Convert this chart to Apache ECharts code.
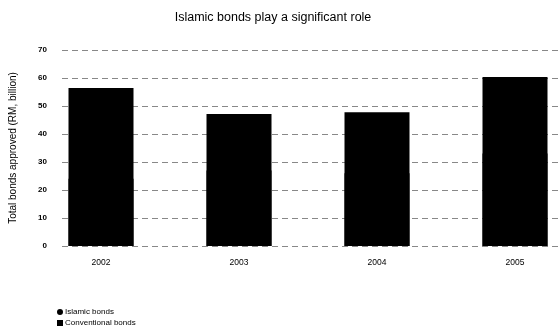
<!DOCTYPE html>
<html><head><meta charset="utf-8">
<script src="https://cdn.jsdelivr.net/npm/echarts@6/dist/echarts.min.js"></script>
<style>html,body{margin:0;padding:0;background:#fff}#c{width:560px;height:331px}</style>
</head><body><div id="c"></div>
<script>
const categories = ['2002', '2003', '2004', '2005'];
const islamicBonds = [24, 27, 26, 33];
const conventionalBonds = [32.4, 20.1, 21.8, 27.4];
const yTicks = [0, 10, 20, 30, 40, 50, 60, 70];
const seriesNames = ['Islamic bonds', 'Conventional bonds'];

const totals = islamicBonds.map((v, i) => v + conventionalBonds[i]);
const font = 'Liberation Sans, Arial, sans-serif';
const chart = echarts.init(document.getElementById('c'));
chart.setOption({
  animation: false,
  backgroundColor: '#fff',
  title: {
    text: 'Islamic bonds play a significant role',
    left: 268, top: 6, textAlign: 'center',
    textStyle: { fontFamily: font, fontSize: 12.5, fontWeight: 'normal', color: '#000' }
  },
  legend: [
    { left: 52, top: 303, itemWidth: 6, itemHeight: 6,
      data: [{ name: seriesNames[0], icon: 'circle' }],
      textStyle: { fontFamily: font, fontSize: 8, color: '#000', padding: [0, 0, 0, -3] } },
    { left: 52, top: 314, itemWidth: 6, itemHeight: 6,
      data: [{ name: seriesNames[1], icon: 'rect' }],
      textStyle: { fontFamily: font, fontSize: 8, color: '#000', padding: [0, 0, 0, -3] } }
  ],
  grid: [
    { left: 62, right: 0, top: 50, bottom: 85, outerBoundsMode: 'none' },
    { left: 32, right: -24, top: 50, bottom: 85, outerBoundsMode: 'none' }
  ],
  xAxis: [
    { gridIndex: 0, type: 'category', data: categories, show: false },
    { gridIndex: 1, type: 'category', data: categories,
      axisLine: { show: false }, axisTick: { show: false },
      axisLabel: { fontFamily: font, fontSize: 8.5, color: '#000', margin: 12 } }
  ],
  yAxis: [
    { gridIndex: 0, type: 'value', min: yTicks[0], max: yTicks[yTicks.length - 1], interval: 10,
      name: 'Total bonds approved (RM, billion)', nameLocation: 'middle', nameGap: 44,
      nameTextStyle: { fontFamily: font, fontSize: 10, color: '#000' },
      axisLine: { show: false }, axisTick: { show: false },
      axisLabel: { fontFamily: font, fontSize: 8, color: '#000', margin: 15, fontWeight: 'bold' },
      splitLine: { lineStyle: { color: '#888', type: [6, 4], width: 1 } } },
    { gridIndex: 1, type: 'value', min: yTicks[0], max: yTicks[yTicks.length - 1], interval: 10, show: false,
      splitLine: { show: false } }
  ],
  series: [
    { name: seriesNames[1], type: 'bar', xAxisIndex: 1, yAxisIndex: 1,
      data: totals, barWidth: 65, itemStyle: { color: '#000' } },
    { name: seriesNames[0], type: 'bar', xAxisIndex: 1, yAxisIndex: 1, barGap: '-100%', z: 3,
      data: islamicBonds, barWidth: 65, itemStyle: { color: '#000' } }
  ]
});
</script></body></html>
